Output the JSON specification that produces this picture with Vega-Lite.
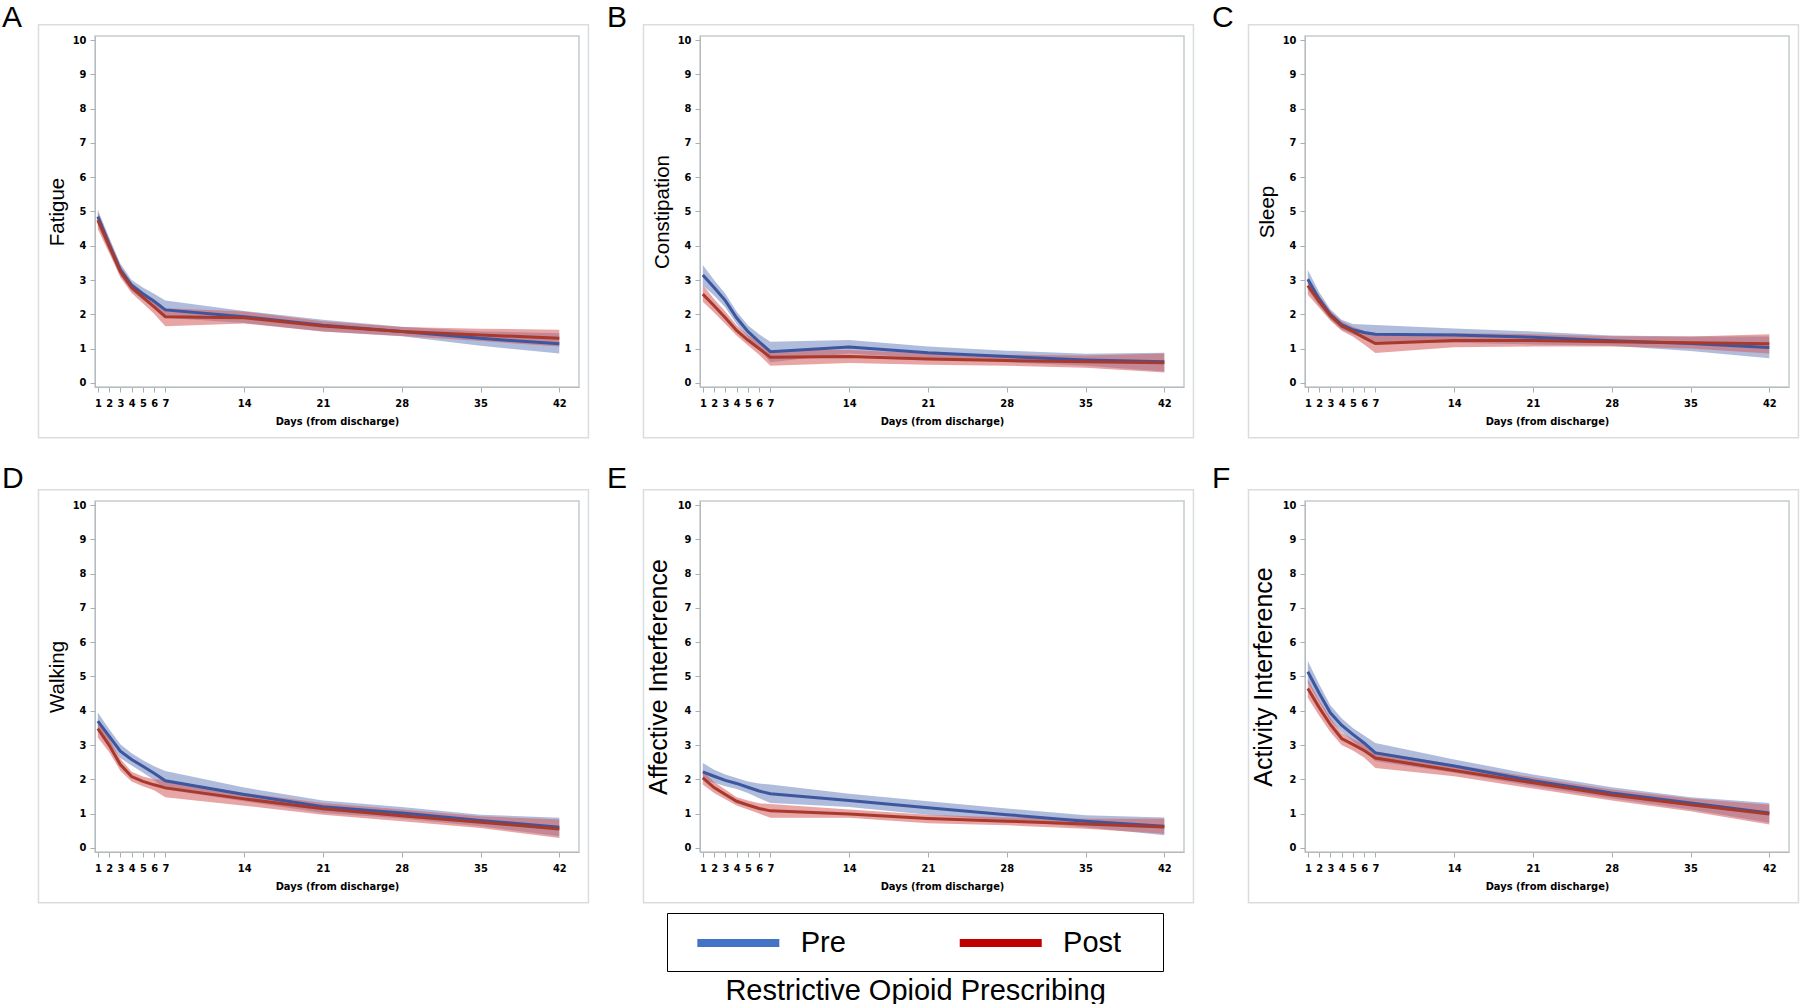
{
"$schema": "https://vega.github.io/schema/vega-lite/v6.json",
"background": "white",
"padding": {"left": 1, "top": 2, "right": 0, "bottom": 0},
"datasets": {"d": [
{"p":"A","g":"Pre","d":1,"m":4.85,"lo":4.6,"hi":5.05},{"p":"A","g":"Pre","d":2,"m":4.05,"lo":3.85,"hi":4.25},{"p":"A","g":"Pre","d":3,"m":3.3,"lo":3.12,"hi":3.48},{"p":"A","g":"Pre","d":4,"m":2.85,"lo":2.68,"hi":3.0},{"p":"A","g":"Pre","d":5,"m":2.6,"lo":2.42,"hi":2.78},{"p":"A","g":"Pre","d":6,"m":2.38,"lo":2.18,"hi":2.6},{"p":"A","g":"Pre","d":7,"m":2.13,"lo":1.9,"hi":2.4},{"p":"A","g":"Pre","d":14,"m":1.93,"lo":1.75,"hi":2.1},{"p":"A","g":"Pre","d":21,"m":1.68,"lo":1.5,"hi":1.84},{"p":"A","g":"Pre","d":28,"m":1.5,"lo":1.36,"hi":1.64},{"p":"A","g":"Pre","d":35,"m":1.3,"lo":1.08,"hi":1.5},{"p":"A","g":"Pre","d":42,"m":1.14,"lo":0.86,"hi":1.45},
{"p":"A","g":"Post","d":1,"m":4.75,"lo":4.48,"hi":4.98},{"p":"A","g":"Post","d":2,"m":4.0,"lo":3.8,"hi":4.2},{"p":"A","g":"Post","d":3,"m":3.25,"lo":3.08,"hi":3.42},{"p":"A","g":"Post","d":4,"m":2.78,"lo":2.62,"hi":2.92},{"p":"A","g":"Post","d":5,"m":2.5,"lo":2.32,"hi":2.66},{"p":"A","g":"Post","d":6,"m":2.22,"lo":2.02,"hi":2.42},{"p":"A","g":"Post","d":7,"m":1.93,"lo":1.65,"hi":2.18},{"p":"A","g":"Post","d":14,"m":1.9,"lo":1.73,"hi":2.08},{"p":"A","g":"Post","d":21,"m":1.66,"lo":1.5,"hi":1.8},{"p":"A","g":"Post","d":28,"m":1.5,"lo":1.37,"hi":1.63},{"p":"A","g":"Post","d":35,"m":1.4,"lo":1.22,"hi":1.58},{"p":"A","g":"Post","d":42,"m":1.3,"lo":1.06,"hi":1.55},
{"p":"B","g":"Pre","d":1,"m":3.15,"lo":2.85,"hi":3.44},{"p":"B","g":"Pre","d":2,"m":2.78,"lo":2.55,"hi":3.0},{"p":"B","g":"Pre","d":3,"m":2.4,"lo":2.2,"hi":2.6},{"p":"B","g":"Pre","d":4,"m":1.9,"lo":1.72,"hi":2.08},{"p":"B","g":"Pre","d":5,"m":1.5,"lo":1.33,"hi":1.68},{"p":"B","g":"Pre","d":6,"m":1.2,"lo":1.0,"hi":1.42},{"p":"B","g":"Pre","d":7,"m":0.91,"lo":0.6,"hi":1.2},{"p":"B","g":"Pre","d":14,"m":1.05,"lo":0.86,"hi":1.25},{"p":"B","g":"Pre","d":21,"m":0.88,"lo":0.72,"hi":1.06},{"p":"B","g":"Pre","d":28,"m":0.77,"lo":0.6,"hi":0.94},{"p":"B","g":"Pre","d":35,"m":0.67,"lo":0.5,"hi":0.85},{"p":"B","g":"Pre","d":42,"m":0.62,"lo":0.33,"hi":0.88},
{"p":"B","g":"Post","d":1,"m":2.59,"lo":2.37,"hi":2.86},{"p":"B","g":"Post","d":2,"m":2.25,"lo":2.05,"hi":2.45},{"p":"B","g":"Post","d":3,"m":1.9,"lo":1.72,"hi":2.08},{"p":"B","g":"Post","d":4,"m":1.53,"lo":1.38,"hi":1.68},{"p":"B","g":"Post","d":5,"m":1.25,"lo":1.1,"hi":1.4},{"p":"B","g":"Post","d":6,"m":1.0,"lo":0.82,"hi":1.18},{"p":"B","g":"Post","d":7,"m":0.75,"lo":0.5,"hi":0.96},{"p":"B","g":"Post","d":14,"m":0.77,"lo":0.58,"hi":0.96},{"p":"B","g":"Post","d":21,"m":0.7,"lo":0.53,"hi":0.86},{"p":"B","g":"Post","d":28,"m":0.65,"lo":0.5,"hi":0.82},{"p":"B","g":"Post","d":35,"m":0.62,"lo":0.44,"hi":0.8},{"p":"B","g":"Post","d":42,"m":0.59,"lo":0.3,"hi":0.86},
{"p":"C","g":"Pre","d":1,"m":3.02,"lo":2.72,"hi":3.29},{"p":"C","g":"Pre","d":2,"m":2.45,"lo":2.25,"hi":2.65},{"p":"C","g":"Pre","d":3,"m":2.0,"lo":1.85,"hi":2.15},{"p":"C","g":"Pre","d":4,"m":1.7,"lo":1.56,"hi":1.84},{"p":"C","g":"Pre","d":5,"m":1.55,"lo":1.42,"hi":1.72},{"p":"C","g":"Pre","d":6,"m":1.47,"lo":1.3,"hi":1.7},{"p":"C","g":"Pre","d":7,"m":1.42,"lo":1.16,"hi":1.69},{"p":"C","g":"Pre","d":14,"m":1.4,"lo":1.17,"hi":1.59},{"p":"C","g":"Pre","d":21,"m":1.33,"lo":1.12,"hi":1.5},{"p":"C","g":"Pre","d":28,"m":1.23,"lo":1.08,"hi":1.38},{"p":"C","g":"Pre","d":35,"m":1.15,"lo":0.93,"hi":1.35},{"p":"C","g":"Pre","d":42,"m":1.03,"lo":0.72,"hi":1.35},
{"p":"C","g":"Post","d":1,"m":2.84,"lo":2.57,"hi":3.05},{"p":"C","g":"Post","d":2,"m":2.38,"lo":2.2,"hi":2.56},{"p":"C","g":"Post","d":3,"m":1.96,"lo":1.82,"hi":2.1},{"p":"C","g":"Post","d":4,"m":1.66,"lo":1.52,"hi":1.8},{"p":"C","g":"Post","d":5,"m":1.5,"lo":1.35,"hi":1.64},{"p":"C","g":"Post","d":6,"m":1.32,"lo":1.12,"hi":1.52},{"p":"C","g":"Post","d":7,"m":1.15,"lo":0.87,"hi":1.4},{"p":"C","g":"Post","d":14,"m":1.24,"lo":1.04,"hi":1.45},{"p":"C","g":"Post","d":21,"m":1.24,"lo":1.06,"hi":1.42},{"p":"C","g":"Post","d":28,"m":1.2,"lo":1.06,"hi":1.36},{"p":"C","g":"Post","d":35,"m":1.17,"lo":1.0,"hi":1.35},{"p":"C","g":"Post","d":42,"m":1.14,"lo":0.86,"hi":1.42},
{"p":"D","g":"Pre","d":1,"m":3.7,"lo":3.45,"hi":3.95},{"p":"D","g":"Pre","d":2,"m":3.26,"lo":3.05,"hi":3.47},{"p":"D","g":"Pre","d":3,"m":2.82,"lo":2.62,"hi":3.02},{"p":"D","g":"Pre","d":4,"m":2.58,"lo":2.4,"hi":2.76},{"p":"D","g":"Pre","d":5,"m":2.38,"lo":2.2,"hi":2.56},{"p":"D","g":"Pre","d":6,"m":2.18,"lo":1.98,"hi":2.38},{"p":"D","g":"Pre","d":7,"m":1.96,"lo":1.7,"hi":2.24},{"p":"D","g":"Pre","d":14,"m":1.56,"lo":1.36,"hi":1.76},{"p":"D","g":"Pre","d":21,"m":1.2,"lo":1.02,"hi":1.38},{"p":"D","g":"Pre","d":28,"m":1.02,"lo":0.86,"hi":1.19},{"p":"D","g":"Pre","d":35,"m":0.8,"lo":0.63,"hi":0.97},{"p":"D","g":"Pre","d":42,"m":0.6,"lo":0.34,"hi":0.88},
{"p":"D","g":"Post","d":1,"m":3.48,"lo":3.22,"hi":3.7},{"p":"D","g":"Post","d":2,"m":3.0,"lo":2.8,"hi":3.2},{"p":"D","g":"Post","d":3,"m":2.43,"lo":2.25,"hi":2.6},{"p":"D","g":"Post","d":4,"m":2.08,"lo":1.94,"hi":2.22},{"p":"D","g":"Post","d":5,"m":1.94,"lo":1.8,"hi":2.08},{"p":"D","g":"Post","d":6,"m":1.84,"lo":1.68,"hi":2.0},{"p":"D","g":"Post","d":7,"m":1.75,"lo":1.48,"hi":1.98},{"p":"D","g":"Post","d":14,"m":1.43,"lo":1.23,"hi":1.6},{"p":"D","g":"Post","d":21,"m":1.14,"lo":0.97,"hi":1.31},{"p":"D","g":"Post","d":28,"m":0.94,"lo":0.78,"hi":1.12},{"p":"D","g":"Post","d":35,"m":0.75,"lo":0.58,"hi":0.92},{"p":"D","g":"Post","d":42,"m":0.55,"lo":0.29,"hi":0.83},
{"p":"E","g":"Pre","d":1,"m":2.22,"lo":1.99,"hi":2.48},{"p":"E","g":"Pre","d":2,"m":2.09,"lo":1.9,"hi":2.28},{"p":"E","g":"Pre","d":3,"m":1.97,"lo":1.8,"hi":2.14},{"p":"E","g":"Pre","d":4,"m":1.88,"lo":1.72,"hi":2.04},{"p":"E","g":"Pre","d":5,"m":1.77,"lo":1.6,"hi":1.94},{"p":"E","g":"Pre","d":6,"m":1.66,"lo":1.45,"hi":1.88},{"p":"E","g":"Pre","d":7,"m":1.58,"lo":1.31,"hi":1.85},{"p":"E","g":"Pre","d":14,"m":1.38,"lo":1.19,"hi":1.58},{"p":"E","g":"Pre","d":21,"m":1.17,"lo":0.97,"hi":1.36},{"p":"E","g":"Pre","d":28,"m":0.97,"lo":0.8,"hi":1.15},{"p":"E","g":"Pre","d":35,"m":0.78,"lo":0.6,"hi":0.95},{"p":"E","g":"Pre","d":42,"m":0.63,"lo":0.37,"hi":0.89},
{"p":"E","g":"Post","d":1,"m":2.04,"lo":1.85,"hi":2.24},{"p":"E","g":"Post","d":2,"m":1.76,"lo":1.6,"hi":1.92},{"p":"E","g":"Post","d":3,"m":1.56,"lo":1.42,"hi":1.7},{"p":"E","g":"Post","d":4,"m":1.36,"lo":1.24,"hi":1.48},{"p":"E","g":"Post","d":5,"m":1.25,"lo":1.12,"hi":1.38},{"p":"E","g":"Post","d":6,"m":1.15,"lo":1.0,"hi":1.3},{"p":"E","g":"Post","d":7,"m":1.08,"lo":0.88,"hi":1.28},{"p":"E","g":"Post","d":14,"m":0.99,"lo":0.88,"hi":1.12},{"p":"E","g":"Post","d":21,"m":0.86,"lo":0.72,"hi":0.97},{"p":"E","g":"Post","d":28,"m":0.78,"lo":0.66,"hi":0.89},{"p":"E","g":"Post","d":35,"m":0.7,"lo":0.56,"hi":0.85},{"p":"E","g":"Post","d":42,"m":0.61,"lo":0.41,"hi":0.85},
{"p":"F","g":"Pre","d":1,"m":5.14,"lo":4.82,"hi":5.45},{"p":"F","g":"Pre","d":2,"m":4.52,"lo":4.26,"hi":4.78},{"p":"F","g":"Pre","d":3,"m":3.94,"lo":3.72,"hi":4.16},{"p":"F","g":"Pre","d":4,"m":3.58,"lo":3.38,"hi":3.78},{"p":"F","g":"Pre","d":5,"m":3.31,"lo":3.12,"hi":3.5},{"p":"F","g":"Pre","d":6,"m":3.06,"lo":2.84,"hi":3.28},{"p":"F","g":"Pre","d":7,"m":2.77,"lo":2.53,"hi":3.06},{"p":"F","g":"Pre","d":14,"m":2.39,"lo":2.19,"hi":2.58},{"p":"F","g":"Pre","d":21,"m":1.96,"lo":1.8,"hi":2.14},{"p":"F","g":"Pre","d":28,"m":1.6,"lo":1.44,"hi":1.77},{"p":"F","g":"Pre","d":35,"m":1.31,"lo":1.12,"hi":1.48},{"p":"F","g":"Pre","d":42,"m":1.02,"lo":0.73,"hi":1.31},
{"p":"F","g":"Post","d":1,"m":4.65,"lo":4.38,"hi":4.91},{"p":"F","g":"Post","d":2,"m":4.1,"lo":3.86,"hi":4.32},{"p":"F","g":"Post","d":3,"m":3.6,"lo":3.38,"hi":3.8},{"p":"F","g":"Post","d":4,"m":3.19,"lo":3.0,"hi":3.36},{"p":"F","g":"Post","d":5,"m":3.02,"lo":2.84,"hi":3.18},{"p":"F","g":"Post","d":6,"m":2.84,"lo":2.64,"hi":3.02},{"p":"F","g":"Post","d":7,"m":2.62,"lo":2.33,"hi":2.82},{"p":"F","g":"Post","d":14,"m":2.26,"lo":2.09,"hi":2.43},{"p":"F","g":"Post","d":21,"m":1.9,"lo":1.73,"hi":2.06},{"p":"F","g":"Post","d":28,"m":1.54,"lo":1.38,"hi":1.7},{"p":"F","g":"Post","d":35,"m":1.26,"lo":1.07,"hi":1.44},{"p":"F","g":"Post","d":42,"m":0.99,"lo":0.68,"hi":1.26}
]},
"data": {"name": "d"},
"title": {"text": "Restrictive Opioid Prescribing", "orient": "bottom", "anchor": "middle", "frame": "bounds", "fontSize": 29, "baseline": "top", "offset": 5, "dx": 15},
"columns": 3,
"spacing": {"row": 114, "column": 121},
"bounds": "flush",
"resolve": {"scale": {"color": "shared", "stroke": "shared"}, "legend": {"color": "shared"}},
"concat": [
{"width":484,"height":351,"title":{"text":"A","dx":-93,"dy":13},"transform":[{"filter":"datum.p==='A'"}],
"encoding":{"x":{"field":"d","type":"quantitative","scale":{"domain":[0.75,43.75],"nice":false,"zero":false},"axis":{"values":[1,2,3,4,5,6,7,14,21,28,35,42],"title":"Days (from discharge)"}},"y":{"field":"m","type":"quantitative","scale":{"domain":[-0.12,10.12],"nice":false,"zero":false},"axis":{"values":[0,1,2,3,4,5,6,7,8,9,10],"title":"Fatigue","titleFontSize":20.5,"titlePadding":4.5}}},
"layer":[
{"transform":[{"filter":"datum.d===1 && datum.g==='Pre'"}],"mark":{"type":"rect","filled":false,"stroke":"#DADDE0","strokeWidth":1.5,"clip":false},"encoding":{"x":{"datum":-4.27,"scale":{"domain":[0.75,43.75],"nice":false,"zero":false}},"x2":{"datum":44.59},"y":{"datum":10.45,"scale":{"domain":[-0.12,10.12],"nice":false,"zero":false}},"y2":{"datum":-1.6}}},
{"transform":[{"filter":"datum.g==='Pre'"}],"mark":{"type":"area","fill":"#6F85BE","opacity":0.55},"encoding":{"y":{"field":"lo","type":"quantitative","scale":{"domain":[-0.12,10.12],"nice":false,"zero":false}},"y2":{"field":"hi"}}},
{"transform":[{"filter":"datum.g==='Post'"}],"mark":{"type":"area","fill":"#D55B5B","opacity":0.55},"encoding":{"y":{"field":"lo","type":"quantitative","scale":{"domain":[-0.12,10.12],"nice":false,"zero":false}},"y2":{"field":"hi"}}},
{"encoding":{"stroke":{"field":"g","type":"nominal","scale":{"domain":["Post","Pre"],"range":["#A8392B","#3C56A0"]},"legend":null}},
"layer":[{"transform":[{"filter":"datum.g==='Pre'"}],"mark":{"type":"line","strokeWidth":3}},{"transform":[{"filter":"datum.g==='Post'"}],"mark":{"type":"line","strokeWidth":3}}]},
{"mark":{"type":"line","clip":true},"encoding":{"y":{"datum":-50,"scale":{"domain":[-0.12,10.12],"nice":false,"zero":false}},"color":{"field":"g","type":"nominal","scale":{"domain":["Pre","Post"],"range":["#4472C4","#C00000"]},"legend":{"title":null,"orient":"none","legendX":572,"legendY":877,"direction":"horizontal","symbolType":"M-1,0H5M11.82,0","symbolSize":747,"symbolStrokeWidth":8,"labelFontSize":29,"labelFont":"Liberation Sans","labelColor":"black","labelOffset":71.7,"columnPadding":52.4,"padding":12,"symbolOffset":14,"strokeColor":"black"}}}}
]},
{"width":484,"height":351,"title":{"text":"B","dx":-93,"dy":13},"transform":[{"filter":"datum.p==='B'"}],
"encoding":{"x":{"field":"d","type":"quantitative","scale":{"domain":[0.75,43.75],"nice":false,"zero":false},"axis":{"values":[1,2,3,4,5,6,7,14,21,28,35,42],"title":"Days (from discharge)"}},"y":{"field":"m","type":"quantitative","scale":{"domain":[-0.12,10.12],"nice":false,"zero":false},"axis":{"values":[0,1,2,3,4,5,6,7,8,9,10],"title":"Constipation","titleFontSize":20.5,"titlePadding":4.5}}},
"layer":[
{"transform":[{"filter":"datum.d===1 && datum.g==='Pre'"}],"mark":{"type":"rect","filled":false,"stroke":"#DADDE0","strokeWidth":1.5,"clip":false},"encoding":{"x":{"datum":-4.27,"scale":{"domain":[0.75,43.75],"nice":false,"zero":false}},"x2":{"datum":44.59},"y":{"datum":10.45,"scale":{"domain":[-0.12,10.12],"nice":false,"zero":false}},"y2":{"datum":-1.6}}},
{"transform":[{"filter":"datum.g==='Pre'"}],"mark":{"type":"area","fill":"#6F85BE","opacity":0.55},"encoding":{"y":{"field":"lo","type":"quantitative","scale":{"domain":[-0.12,10.12],"nice":false,"zero":false}},"y2":{"field":"hi"}}},
{"transform":[{"filter":"datum.g==='Post'"}],"mark":{"type":"area","fill":"#D55B5B","opacity":0.55},"encoding":{"y":{"field":"lo","type":"quantitative","scale":{"domain":[-0.12,10.12],"nice":false,"zero":false}},"y2":{"field":"hi"}}},
{"encoding":{"stroke":{"field":"g","type":"nominal","scale":{"domain":["Post","Pre"],"range":["#A8392B","#3C56A0"]},"legend":null}},
"layer":[{"transform":[{"filter":"datum.g==='Pre'"}],"mark":{"type":"line","strokeWidth":3}},{"transform":[{"filter":"datum.g==='Post'"}],"mark":{"type":"line","strokeWidth":3}}]}
]},
{"width":484,"height":351,"title":{"text":"C","dx":-93,"dy":13},"transform":[{"filter":"datum.p==='C'"}],
"encoding":{"x":{"field":"d","type":"quantitative","scale":{"domain":[0.75,43.75],"nice":false,"zero":false},"axis":{"values":[1,2,3,4,5,6,7,14,21,28,35,42],"title":"Days (from discharge)"}},"y":{"field":"m","type":"quantitative","scale":{"domain":[-0.12,10.12],"nice":false,"zero":false},"axis":{"values":[0,1,2,3,4,5,6,7,8,9,10],"title":"Sleep","titleFontSize":20.5,"titlePadding":4.5}}},
"layer":[
{"transform":[{"filter":"datum.d===1 && datum.g==='Pre'"}],"mark":{"type":"rect","filled":false,"stroke":"#DADDE0","strokeWidth":1.5,"clip":false},"encoding":{"x":{"datum":-4.27,"scale":{"domain":[0.75,43.75],"nice":false,"zero":false}},"x2":{"datum":44.59},"y":{"datum":10.45,"scale":{"domain":[-0.12,10.12],"nice":false,"zero":false}},"y2":{"datum":-1.6}}},
{"transform":[{"filter":"datum.g==='Pre'"}],"mark":{"type":"area","fill":"#6F85BE","opacity":0.55},"encoding":{"y":{"field":"lo","type":"quantitative","scale":{"domain":[-0.12,10.12],"nice":false,"zero":false}},"y2":{"field":"hi"}}},
{"transform":[{"filter":"datum.g==='Post'"}],"mark":{"type":"area","fill":"#D55B5B","opacity":0.55},"encoding":{"y":{"field":"lo","type":"quantitative","scale":{"domain":[-0.12,10.12],"nice":false,"zero":false}},"y2":{"field":"hi"}}},
{"encoding":{"stroke":{"field":"g","type":"nominal","scale":{"domain":["Post","Pre"],"range":["#A8392B","#3C56A0"]},"legend":null}},
"layer":[{"transform":[{"filter":"datum.g==='Pre'"}],"mark":{"type":"line","strokeWidth":3}},{"transform":[{"filter":"datum.g==='Post'"}],"mark":{"type":"line","strokeWidth":3}}]}
]},
{"width":484,"height":351,"title":{"text":"D","dx":-93,"dy":9},"transform":[{"filter":"datum.p==='D'"}],
"encoding":{"x":{"field":"d","type":"quantitative","scale":{"domain":[0.75,43.75],"nice":false,"zero":false},"axis":{"values":[1,2,3,4,5,6,7,14,21,28,35,42],"title":"Days (from discharge)"}},"y":{"field":"m","type":"quantitative","scale":{"domain":[-0.12,10.12],"nice":false,"zero":false},"axis":{"values":[0,1,2,3,4,5,6,7,8,9,10],"title":"Walking","titleFontSize":20.5,"titlePadding":4.5}}},
"layer":[
{"transform":[{"filter":"datum.d===1 && datum.g==='Pre'"}],"mark":{"type":"rect","filled":false,"stroke":"#DADDE0","strokeWidth":1.5,"clip":false},"encoding":{"x":{"datum":-4.27,"scale":{"domain":[0.75,43.75],"nice":false,"zero":false}},"x2":{"datum":44.59},"y":{"datum":10.45,"scale":{"domain":[-0.12,10.12],"nice":false,"zero":false}},"y2":{"datum":-1.6}}},
{"transform":[{"filter":"datum.g==='Pre'"}],"mark":{"type":"area","fill":"#6F85BE","opacity":0.55},"encoding":{"y":{"field":"lo","type":"quantitative","scale":{"domain":[-0.12,10.12],"nice":false,"zero":false}},"y2":{"field":"hi"}}},
{"transform":[{"filter":"datum.g==='Post'"}],"mark":{"type":"area","fill":"#D55B5B","opacity":0.55},"encoding":{"y":{"field":"lo","type":"quantitative","scale":{"domain":[-0.12,10.12],"nice":false,"zero":false}},"y2":{"field":"hi"}}},
{"encoding":{"stroke":{"field":"g","type":"nominal","scale":{"domain":["Post","Pre"],"range":["#A8392B","#3C56A0"]},"legend":null}},
"layer":[{"transform":[{"filter":"datum.g==='Pre'"}],"mark":{"type":"line","strokeWidth":3}},{"transform":[{"filter":"datum.g==='Post'"}],"mark":{"type":"line","strokeWidth":3}}]}
]},
{"width":484,"height":351,"title":{"text":"E","dx":-93,"dy":9},"transform":[{"filter":"datum.p==='E'"}],
"encoding":{"x":{"field":"d","type":"quantitative","scale":{"domain":[0.75,43.75],"nice":false,"zero":false},"axis":{"values":[1,2,3,4,5,6,7,14,21,28,35,42],"title":"Days (from discharge)"}},"y":{"field":"m","type":"quantitative","scale":{"domain":[-0.12,10.12],"nice":false,"zero":false},"axis":{"values":[0,1,2,3,4,5,6,7,8,9,10],"title":"Affective Interference","titleFontSize":25,"titlePadding":6}}},
"layer":[
{"transform":[{"filter":"datum.d===1 && datum.g==='Pre'"}],"mark":{"type":"rect","filled":false,"stroke":"#DADDE0","strokeWidth":1.5,"clip":false},"encoding":{"x":{"datum":-4.27,"scale":{"domain":[0.75,43.75],"nice":false,"zero":false}},"x2":{"datum":44.59},"y":{"datum":10.45,"scale":{"domain":[-0.12,10.12],"nice":false,"zero":false}},"y2":{"datum":-1.6}}},
{"transform":[{"filter":"datum.g==='Pre'"}],"mark":{"type":"area","fill":"#6F85BE","opacity":0.55},"encoding":{"y":{"field":"lo","type":"quantitative","scale":{"domain":[-0.12,10.12],"nice":false,"zero":false}},"y2":{"field":"hi"}}},
{"transform":[{"filter":"datum.g==='Post'"}],"mark":{"type":"area","fill":"#D55B5B","opacity":0.55},"encoding":{"y":{"field":"lo","type":"quantitative","scale":{"domain":[-0.12,10.12],"nice":false,"zero":false}},"y2":{"field":"hi"}}},
{"encoding":{"stroke":{"field":"g","type":"nominal","scale":{"domain":["Post","Pre"],"range":["#A8392B","#3C56A0"]},"legend":null}},
"layer":[{"transform":[{"filter":"datum.g==='Pre'"}],"mark":{"type":"line","strokeWidth":3}},{"transform":[{"filter":"datum.g==='Post'"}],"mark":{"type":"line","strokeWidth":3}}]}
]},
{"width":484,"height":351,"title":{"text":"F","dx":-93,"dy":9},"transform":[{"filter":"datum.p==='F'"}],
"encoding":{"x":{"field":"d","type":"quantitative","scale":{"domain":[0.75,43.75],"nice":false,"zero":false},"axis":{"values":[1,2,3,4,5,6,7,14,21,28,35,42],"title":"Days (from discharge)"}},"y":{"field":"m","type":"quantitative","scale":{"domain":[-0.12,10.12],"nice":false,"zero":false},"axis":{"values":[0,1,2,3,4,5,6,7,8,9,10],"title":"Activity Interference","titleFontSize":25,"titlePadding":6}}},
"layer":[
{"transform":[{"filter":"datum.d===1 && datum.g==='Pre'"}],"mark":{"type":"rect","filled":false,"stroke":"#DADDE0","strokeWidth":1.5,"clip":false},"encoding":{"x":{"datum":-4.27,"scale":{"domain":[0.75,43.75],"nice":false,"zero":false}},"x2":{"datum":44.59},"y":{"datum":10.45,"scale":{"domain":[-0.12,10.12],"nice":false,"zero":false}},"y2":{"datum":-1.6}}},
{"transform":[{"filter":"datum.g==='Pre'"}],"mark":{"type":"area","fill":"#6F85BE","opacity":0.55},"encoding":{"y":{"field":"lo","type":"quantitative","scale":{"domain":[-0.12,10.12],"nice":false,"zero":false}},"y2":{"field":"hi"}}},
{"transform":[{"filter":"datum.g==='Post'"}],"mark":{"type":"area","fill":"#D55B5B","opacity":0.55},"encoding":{"y":{"field":"lo","type":"quantitative","scale":{"domain":[-0.12,10.12],"nice":false,"zero":false}},"y2":{"field":"hi"}}},
{"encoding":{"stroke":{"field":"g","type":"nominal","scale":{"domain":["Post","Pre"],"range":["#A8392B","#3C56A0"]},"legend":null}},
"layer":[{"transform":[{"filter":"datum.g==='Pre'"}],"mark":{"type":"line","strokeWidth":3}},{"transform":[{"filter":"datum.g==='Post'"}],"mark":{"type":"line","strokeWidth":3}}]}
]}
],
"config": {
"view": {"stroke": "#C5CBCE", "strokeWidth": 1.5},
"title": {"font": "Liberation Sans", "fontSize": 30, "fontWeight": "normal", "anchor": "start", "frame": "group", "offset": 0, "baseline": "alphabetic", "color": "black"},
"axis": {"labelFont": "Liberation Sans Narrow, DejaVu Sans Condensed, sans-serif", "labelFontWeight": "bold", "labelFontSize": 11, "labelColor": "black", "tickColor": "#A9AEB2", "domainColor": "#B5BABE", "tickSize": 5, "grid": false},
"axisX": {"labelAngle": 0, "labelOverlap": false, "labelFlush": false, "titleFont": "Liberation Sans Narrow, DejaVu Sans Condensed, sans-serif", "titleFontWeight": "bold", "titleFontSize": 11, "titleColor": "black", "titlePadding": 7, "labelPadding": 5},
"axisY": {"titleFont": "Liberation Sans", "titleFontWeight": "normal", "titleColor": "black", "labelPadding": 4}
}
}
